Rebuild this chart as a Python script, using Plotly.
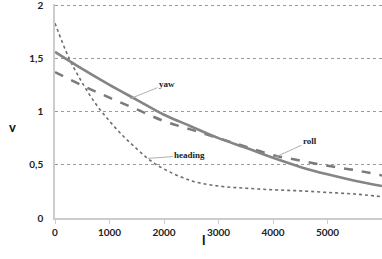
import plotly.graph_objects as go

# Data
yaw_x = [0, 500, 1000, 1500, 2000, 2500, 3000, 3500, 4000, 4500, 5000, 5500, 6000]
yaw_v = [1.56, 1.40, 1.25, 1.11, 0.97, 0.86, 0.75, 0.66, 0.565, 0.48, 0.41, 0.35, 0.30]

roll_x = [0, 500, 1000, 1500, 2000, 2500, 3000, 3500, 4000, 4500, 5000, 5500, 6000]
roll_v = [1.37, 1.245, 1.13, 1.02, 0.91, 0.83, 0.75, 0.67, 0.59, 0.54, 0.49, 0.45, 0.40]

heading_x = [0, 250, 500, 750, 1000, 1250, 1500, 1750, 2000, 2500, 3000, 3500, 4000, 4500, 5000, 5500, 6000]
heading_v = [1.83, 1.51, 1.27, 1.07, 0.91, 0.77, 0.65, 0.54, 0.46, 0.35, 0.30, 0.28, 0.265, 0.255, 0.24, 0.225, 0.20]

x_ticks = [0, 1000, 2000, 3000, 4000, 5000]
y_ticks = [0, 0.5, 1, 1.5, 2]
y_tick_labels = ["0", "0,5", "1", "1,5", "2"]

fig = go.Figure()
fig.add_trace(go.Scatter(x=heading_x, y=heading_v, mode="lines", line_shape="spline",
                         line=dict(color="#6e6e6e", width=1.6, dash="dot"), name="heading"))
fig.add_trace(go.Scatter(x=roll_x, y=roll_v, mode="lines", line_shape="spline",
                         line=dict(color="#7a7a7a", width=2.5, dash="dash"), name="roll"))
fig.add_trace(go.Scatter(x=yaw_x, y=yaw_v, mode="lines", line_shape="spline",
                         line=dict(color="#858585", width=2.6), name="yaw"))

lab_font = dict(family="Liberation Serif", size=9, color="#222222")
anns = [
    dict(x=1376, y=1.12, ax=37, ay=-15, text="<b>yaw</b>"),
    dict(x=1706, y=0.56, ax=42, ay=-3, text="<b>heading</b>"),
    dict(x=4037, y=0.57, ax=35, ay=-16, text="<b>roll</b>"),
]
annotations = []
for a in anns:
    annotations.append(dict(x=a["x"], y=a["y"], ax=a["ax"], ay=a["ay"], xref="x", yref="y",
                            text=a["text"], showarrow=True, arrowhead=0, arrowwidth=1,
                            arrowcolor="#b0b0b0", font=lab_font))
annotations.append(dict(x=-0.147, y=0.423, xref="paper", yref="paper", text="<b>v</b>",
                        showarrow=False, font=dict(family="Lato", size=13, color="#111111")))
annotations.append(dict(x=0.453, y=-0.15, xref="paper", yref="paper", text="<b>l</b>",
                        showarrow=False, font=dict(family="Lato", size=14, color="#111111")))

fig.update_layout(
    width=382, height=259,
    margin=dict(l=55, r=0, t=4, b=41),
    paper_bgcolor="white", plot_bgcolor="white",
    showlegend=False,
    annotations=annotations,
    font=dict(family="Lato", size=10, color="#222222"),
)
fig.update_xaxes(range=[0, 6000], tickvals=x_ticks, showgrid=False, zeroline=False,
                 showline=True, linecolor="#cccccc", linewidth=1.5,
                 ticks="outside", ticklen=4, tickcolor="#cccccc",
                 tickfont=dict(family="Lato", size=10, color="#222222", weight="bold"))
fig.update_yaxes(range=[0, 2.01], tickvals=y_ticks, ticktext=y_tick_labels,
                 showgrid=True, gridcolor="#9a9a9a", griddash="dot", gridwidth=1,
                 zeroline=False, showline=True, linecolor="#cccccc", linewidth=1.5,
                 ticks="outside", ticklen=8, tickcolor="rgba(0,0,0,0)",
                 ticklabeloverflow="allow", automargin=False,
                 tickfont=dict(family="Lato", size=10, color="#222222", weight="bold"))

fig.write_html("out.html", config={"displayModeBar": False},
               post_script="document.body.style.margin='0';document.body.style.overflow='hidden';")
